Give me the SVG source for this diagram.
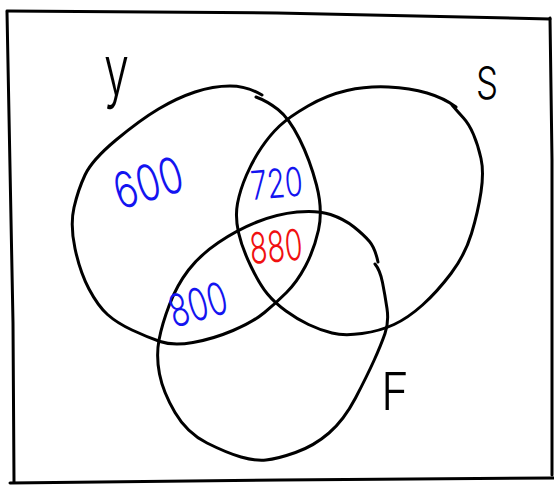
<svg xmlns="http://www.w3.org/2000/svg" width="554" height="485" viewBox="0 0 554 485">
<style>
.ink{fill:none;stroke:#000;stroke-width:3;stroke-linecap:round;stroke-linejoin:round}
.lbl{font-family:Inter,"Open Sans","Liberation Sans",sans-serif;font-weight:300;fill:#000}
.num{font-family:Inter,"Open Sans","Liberation Sans",sans-serif;font-weight:300}
.blue{fill:#1414f0}
.red{fill:#f01010}
</style>
<rect x="0" y="0" width="554" height="485" fill="#fff"/>
<g id="frame">
<path class="ink" d="M7,11 L277,13 L550,19"/>
<path class="ink" d="M7,12 Q10,160 13,323 L14,482"/>
<path class="ink" d="M10,483 L280,480 L554,478"/>
<path class="ink" d="M550,18 L552,160 L552,475"/>
</g>
<g id="set-Y">
<path class="ink" d="M256,97 Q267,101 278,109.5 Q289,118 299.5,139 Q310,160 316.5,185 Q323,210 318.5,230 Q314,250 305.5,266 Q297,282 286.5,292.5 Q276,303 264.5,312.5 Q253,322 233,330.5 Q213,339 193,342.5 Q173,346 160,341.5 Q147,337 132,330 Q117,323 107.5,314.5 Q98,306 89,289 Q80,272 75,248.5 Q70,225 74,207.5 Q78,190 85,175 Q92,160 116,140 Q140,120 158.5,109 Q177,98 195,92 Q213,86 230,86 Q247,86 262,95"/>
<text class="lbl" x="104" y="95" font-size="70" textLength="25" lengthAdjust="spacingAndGlyphs">y</text>
</g>
<g id="set-S">
<path class="ink" d="M452,105 Q458,112 463.5,118 Q469,124 473.5,134.5 Q478,145 481,158.5 Q484,172 481,192 Q478,212 471.5,233.5 Q465,255 451,273.5 Q437,292 422.5,305 Q408,318 394,324.5 Q380,331 362,333.5 Q344,336 332,333 Q320,330 308.5,324.5 Q297,319 286,311 Q275,303 267.5,294 Q260,285 251,266.5 Q242,248 238.5,232.5 Q235,217 237.5,203.5 Q240,190 246.5,175 Q253,160 261.5,147.5 Q270,135 279.5,126 Q289,117 308,106 Q327,95 347,90.5 Q367,86 388.5,87 Q410,88 427,93 Q444,98 456,107"/>
<text class="lbl" x="476" y="99" font-size="45" textLength="22" lengthAdjust="spacingAndGlyphs">S</text>
</g>
<g id="set-F">
<path class="ink" d="M375,264 Q380,270 382.5,282.5 Q385,295 387,308.5 Q389,322 385,333.5 Q381,345 374,360.5 Q367,376 355.5,398 Q344,420 329,433 Q314,446 295.5,452.5 Q277,459 266,460 Q255,461 241,457 Q227,453 207,443 Q187,433 175,412.5 Q163,392 159.5,374 Q156,356 159,340 Q162,324 169.5,304.5 Q177,285 188.5,270 Q200,255 218.5,242.5 Q237,230 257,222 Q277,214 297,212 Q317,210 330.5,214.5 Q344,219 354,227 Q364,235 369.5,241.5 Q375,248 378,262"/>
<text class="lbl" x="381" y="410" font-size="52" textLength="28" lengthAdjust="spacingAndGlyphs">F</text>
</g>
<g id="regions">
<text id="r-Y" class="num blue" x="120" y="210" font-size="50" textLength="70" lengthAdjust="spacingAndGlyphs" transform="rotate(-17 120 210)">600</text>
<text id="r-YS" class="num blue" x="252" y="200" font-size="40" textLength="52" lengthAdjust="spacingAndGlyphs" transform="rotate(-5 252 200)">720</text>
<text id="r-YSF" class="num red" x="251" y="264" font-size="43" textLength="53" lengthAdjust="spacingAndGlyphs" transform="rotate(-5 251 264)">880</text>
<text id="r-YF" class="num blue" x="174" y="328" font-size="45" textLength="59" lengthAdjust="spacingAndGlyphs" transform="rotate(-16 174 328)">800</text>
</g>
</svg>
